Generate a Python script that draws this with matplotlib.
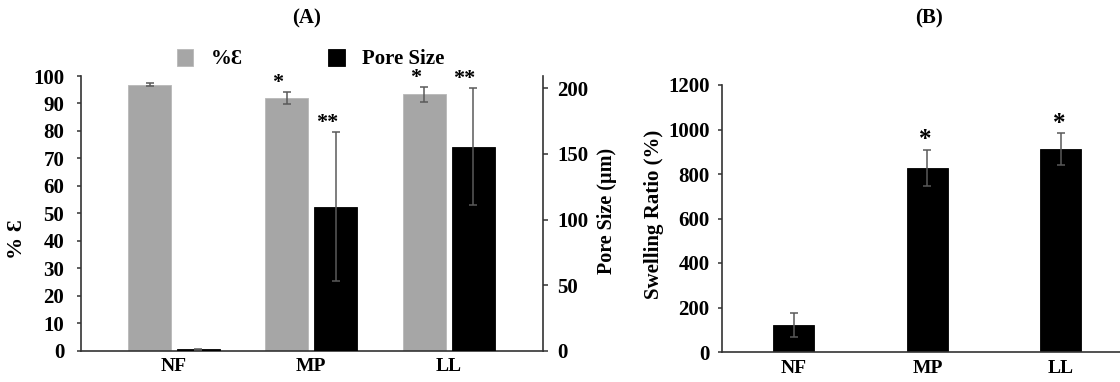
import numpy as np
import matplotlib
matplotlib.use("Agg")
import matplotlib.pyplot as plt

plt.rcParams['font.family'] = ['Liberation Serif', 'DejaVu Serif']
plt.rcParams['font.weight'] = 'bold'

# ---------------- data ----------------
categories = ["NF", "MP", "LL"]
porosity = [96.8, 92.0, 93.3]          # % epsilon (left axis, panel A)
porosity_err = [0.5, 2.3, 2.8]
pore_size = [1.0, 109.8, 155.5]        # µm (right axis, panel A)
pore_size_err = [0.6, 57.0, 44.8]
swelling = [121, 828, 912]             # % (panel B)
swelling_err = [54, 82, 71]
sig_porosity = ["", "*", "*"]
sig_pore = ["", "**", "**"]
sig_swelling = ["", "*", "*"]

GRAY = "#a6a6a6"
ERR = "#5a5a5a"
AXC = "#333333"

W, H = 1120, 382
fig = plt.figure(figsize=(W / 100, H / 100), dpi=100)

err_kw = dict(ecolor=ERR, elinewidth=1.1, capsize=3.2, capthick=1.1)

# ---------------- panel A ----------------
axA = fig.add_axes([81 / W, (H - 350.7) / H, 462 / W, 274.7 / H])
axB2 = axA.twinx()
x = np.arange(len(categories))
off = 0.178
bw = 0.313

b1 = axA.bar(x - off, porosity, bw, yerr=porosity_err, color=GRAY,
             edgecolor="#b8b8b8", linewidth=0.6, error_kw=err_kw, label="%Ɛ")
b2 = axB2.bar(x + off, pore_size, bw, yerr=pore_size_err, color="black",
              edgecolor="black", linewidth=0.6, error_kw=err_kw, label="Pore Size")

axA.set_xlim(-0.677, 2.687)
axA.set_ylim(0, 100)
axB2.set_ylim(0, 209.4)
axA.set_yticks(np.arange(0, 101, 10))
axB2.set_yticks(np.arange(0, 201, 50))
axA.set_xticks(x)
axA.set_xticklabels(categories, fontsize=14, fontweight='bold')
axA.tick_params(axis='x', length=0, pad=5)
axA.tick_params(axis='y', length=3, width=1.1, color=AXC, labelsize=15, pad=9)
axB2.tick_params(axis='y', length=3.5, width=1.1, color=AXC, labelsize=15, pad=7)

for a in (axA, axB2):
    a.spines['top'].set_visible(False)
    for s in ('left', 'right', 'bottom'):
        a.spines[s].set_color(AXC)
        a.spines[s].set_linewidth(1.2)
axA.spines['right'].set_visible(False)
axB2.spines['left'].set_visible(False)
axB2.spines['bottom'].set_visible(False)

axA.set_ylabel("% Ɛ", fontsize=16, fontweight='bold', rotation=90,
               ha='center', va='center', rotation_mode='default')
axA.yaxis.set_label_coords(-0.1385, 0.407)
axB2.set_ylabel("Pore Size (µm)", fontsize=14.5, fontweight='bold', rotation=90,
                ha='center', va='center', rotation_mode='default')
axB2.yaxis.set_label_coords(1.1385, 0.507)

axA.set_title("(A)", x=0.489, y=1.21, va='center', fontsize=15, fontweight='bold', pad=0)

for xi, v, e, s in zip(x - off, porosity, porosity_err, sig_porosity):
    if s:
        axA.annotate(s, (xi, v + e), xytext=(-6.5, 2.5), textcoords='offset points',
                     ha='center', va='baseline', fontsize=16, fontweight='bold',
                     annotation_clip=False)
for xi, v, e, s in zip(x + off, pore_size, pore_size_err, sig_pore):
    if s:
        axB2.annotate(s, (xi, v + e), xytext=(-6.5, 2.5), textcoords='offset points',
                      ha='center', va='baseline', fontsize=16, fontweight='bold',
                      annotation_clip=False)

fig.legend(handles=[b1, b2], labels=["%Ɛ", "Pore Size"], loc='center left',
           bbox_to_anchor=(177 / W, 1 - 59 / H), bbox_transform=fig.transFigure,
           ncol=2, frameon=False, prop={'size': 15, 'weight': 'bold'},
           handlelength=0.78, handleheight=0.87, handletextpad=0.85,
           columnspacing=4.1, borderpad=0, borderaxespad=0)

# ---------------- panel B ----------------
axB = fig.add_axes([722 / W, (H - 352) / H, 398 / W, 267 / H])
axB.bar(x, swelling, 0.307, yerr=swelling_err, color="black", edgecolor="black",
        linewidth=0.6, error_kw=err_kw)
axB.set_xlim(-0.539, 2.442)
axB.set_ylim(0, 1200)
axB.set_yticks(np.arange(0, 1201, 200))
axB.set_xticks(x)
axB.set_xticklabels(categories, fontsize=14, fontweight='bold')
axB.tick_params(axis='x', length=0, pad=6)
axB.tick_params(axis='y', length=3, width=1.1, color=AXC, labelsize=15, pad=6)
axB.spines['top'].set_visible(False)
axB.spines['right'].set_visible(False)
for s in ('left', 'bottom'):
    axB.spines[s].set_color(AXC)
    axB.spines[s].set_linewidth(1.2)
axB.set_ylabel("Swelling Ratio (%)", fontsize=15, fontweight='bold', rotation=90,
               ha='center', va='center', rotation_mode='default')
axB.yaxis.set_label_coords(-0.17, 0.517)
axB.set_title("(B)", x=0.52, y=1.25, va='center', fontsize=15, fontweight='bold', pad=0)

for xi, v, e, s in zip(x, swelling, swelling_err, sig_swelling):
    if s:
        axB.annotate(s, (xi, v + e), xytext=(-1.5, 2.5), textcoords='offset points',
                     ha='center', va='baseline', fontsize=18, fontweight='bold',
                     annotation_clip=False)

fig.savefig("out.png", dpi=100)
